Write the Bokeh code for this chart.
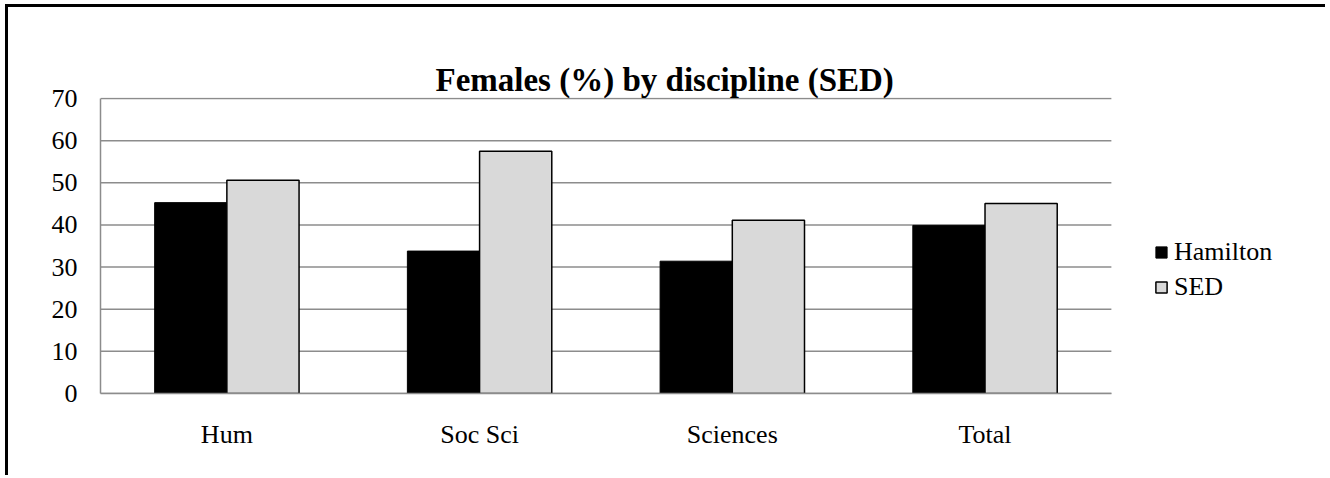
from bokeh.plotting import figure
from bokeh.models import (ColumnDataSource, Legend, LegendItem, Range1d, FixedTicker,
                          LinearAxis, Title)
from bokeh.transform import dodge
from bokeh.embed import file_html
from bokeh.resources import INLINE

categories = ["Hum", "Soc Sci", "Sciences", "Total"]
hamilton = [45.3, 33.8, 31.4, 39.9]
sed = [50.6, 57.5, 41.1, 45.1]
y_ticks = [0, 10, 20, 30, 40, 50, 60, 70]

FONT = "Liberation Serif"
GRID = "#8c8c8c"
n = len(categories)
centers = [i + 0.5 for i in range(n)]
w = 0.2857

src = ColumnDataSource(dict(x=centers, hamilton=hamilton, sed=sed))

p = figure(x_range=Range1d(0, 4.78), y_range=Range1d(0, 70.25),
           width=1320, height=471, output_backend="svg", toolbar_location=None,
           min_border_left=92, min_border_right=20, min_border_top=90, min_border_bottom=85,
           title=None)
p.styles = {"border-left": "3px solid black", "border-top": "3px solid black",
            "margin-left": "5px", "margin-top": "4px"}
p.outline_line_color = None

title = Title(text="Females (%) by discipline (SED)", align="left", offset=335,
              text_font=FONT, text_font_size="33px", text_font_style="bold",
              text_color="black", standoff=0)
p.add_layout(title, "above")

# invisible spacer between the frame and the title
spacer = LinearAxis(ticker=FixedTicker(ticks=[]), axis_line_color=None,
                    major_tick_line_color=None, minor_tick_line_color=None,
                    major_tick_out=33, major_tick_in=0, minor_tick_out=0,
                    major_label_standoff=0)
p.add_layout(spacer, "above")

# horizontal gridlines limited to the category area
p.xgrid.grid_line_color = None
p.ygrid.grid_line_color = None
p.segment(x0=[0] * len(y_ticks), x1=[n] * len(y_ticks), y0=y_ticks, y1=y_ticks,
          line_color=GRID, line_width=1.5)

r1 = p.vbar(x=dodge("x", -w / 2), top="hamilton", width=w, source=src,
            fill_color="black", line_color="black", line_width=1)
r2 = p.vbar(x=dodge("x", w / 2), top="sed", width=w, source=src,
            fill_color="#d9d9d9", line_color="black", line_width=1.5)

xax = p.below[0]
yax = p.left[0]
xax.ticker = FixedTicker(ticks=centers)
xax.major_label_overrides = {c: lab for c, lab in zip(centers, categories)}
xax.bounds = (0, n)
yax.ticker = FixedTicker(ticks=y_ticks)
yax.bounds = (0, 70)

for ax in (xax, yax):
    ax.axis_line_color = GRID
    ax.axis_line_width = 1.5
    ax.major_tick_line_color = None
    ax.minor_tick_line_color = None
    ax.major_tick_out = 0
    ax.major_tick_in = 0
    ax.major_label_text_font = FONT
    ax.major_label_text_font_size = "26px"
    ax.major_label_text_color = "black"
yax.major_label_standoff = 23
xax.major_label_standoff = 26

legend = Legend(items=[LegendItem(label="Hamilton", renderers=[r1]),
                       LegendItem(label="SED", renderers=[r2])],
                location=(1054, 91), padding=0, margin=0, spacing=5, label_standoff=6,
                glyph_width=14, glyph_height=14,
                label_text_font=FONT, label_text_font_size="26px", label_text_color="black",
                border_line_color=None, background_fill_alpha=0)
p.add_layout(legend, "center")

open("out.html", "w").write(file_html(p, INLINE))
